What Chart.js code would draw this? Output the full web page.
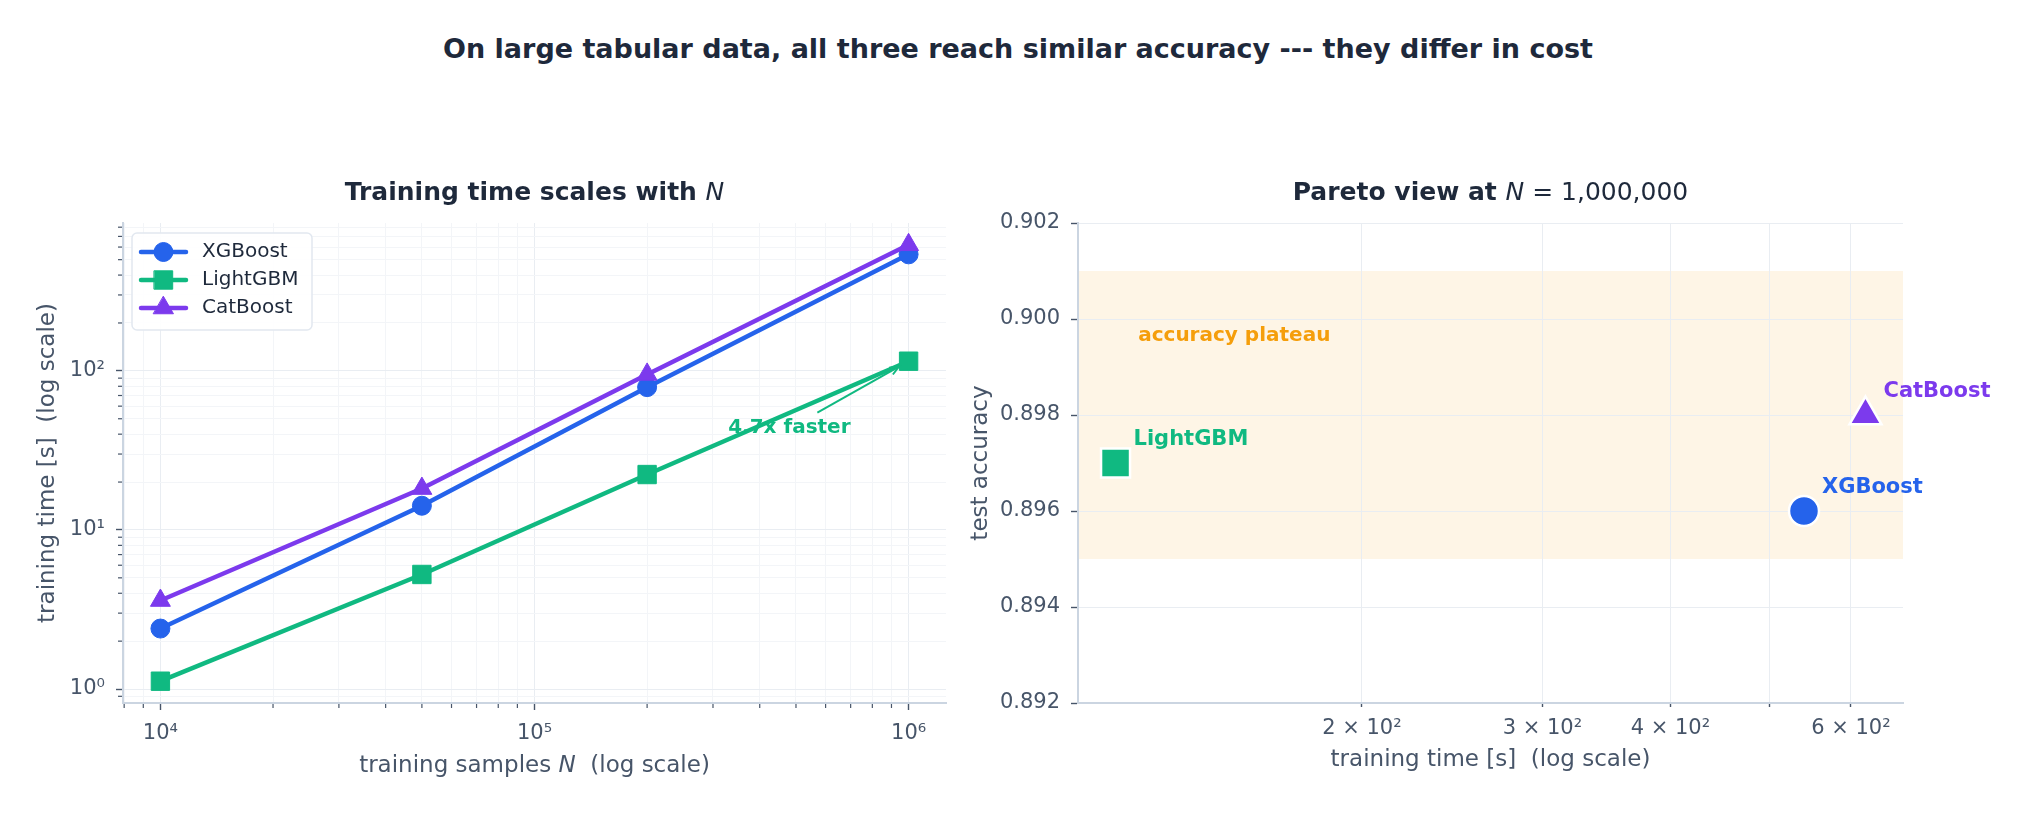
<!DOCTYPE html>
<html>
<head>
<meta charset="utf-8">
<script src="https://cdn.jsdelivr.net/npm/chart.js@4.4.1/dist/chart.umd.min.js"></script>
<style>
  body { margin: 0; background: #fff; width: 2031px; height: 817px; overflow: hidden; position: relative; }
  #suptitle { position: absolute; left: 0; top: 33px; width: 2036px; text-align: center;
              font: bold 27px 'DejaVu Sans', sans-serif; line-height: 32px; color: #1e293b; }
  #leftWrap { position: absolute; left: 0; top: 0; width: 960px; height: 817px; }
  #rightWrap { position: absolute; left: 960px; top: 0; width: 1071px; height: 817px; }
</style>
</head>
<body>
<div id="suptitle">On large tabular data, all three reach similar accuracy --- they differ in cost</div>
<div id="leftWrap"><canvas id="timeChart" width="960" height="817"></canvas></div>
<div id="rightWrap"><canvas id="paretoChart" width="1071" height="817"></canvas></div>
<script>
// data
const models = ['XGBoost', 'LightGBM', 'CatBoost'];
const sampleSizes = [1e4, 5e4, 2e5, 1e6];
const xgbTime = [2.4, 14.2, 79, 540];
const lgbmTime = [1.12, 5.25, 22.3, 115];
const catTime = [3.6, 18.2, 95, 620];

// pareto panel at N = 1,000,000
const paretoTime = [540, 115, 620];
const paretoAcc = [0.896, 0.897, 0.898];
const plateauLow = 0.895;
const plateauHigh = 0.901;

// ticks
const sampleMajorTicks = [1e4, 1e5, 1e6];
const sampleTickLabels = ['10⁴', '10⁵', '10⁶'];
const sampleMinorTicks = [8e3, 9e3, 2e4, 3e4, 4e4, 5e4, 6e4, 7e4, 8e4, 9e4,
                          2e5, 3e5, 4e5, 5e5, 6e5, 7e5, 8e5, 9e5];
const timeMajorTicks = [1, 10, 100];
const timeTickLabels = ['10⁰', '10¹', '10²'];
const timeMinorTicks = [0.9, 2, 3, 4, 5, 6, 7, 8, 9, 20, 30, 40, 50, 60, 70, 80, 90,
                        200, 300, 400, 500, 600, 700, 800];
const paretoTimeTicks = [200, 300, 400, 500, 600];
const paretoTimeLabels = ['2 × 10²', '3 × 10²', '4 × 10²', '', '6 × 10²'];
const accTicks = [0.892, 0.894, 0.896, 0.898, 0.900, 0.902];

// styling
const FONT = "'DejaVu Sans', sans-serif";
const modelColors = ['#2563eb', '#10b981', '#7c3aed'];
const modelMarkers = ['circle', 'rect', 'triangle'];
const lineMarkerRadius = { circle: 9.5, rect: 13, triangle: 11.5 };
const paretoMarkerRadius = { circle: 15, rect: 20.5, triangle: 18.5 };
const TITLE = '#1e293b';
const LABEL = '#475569';
const SPINE = '#cbd5e1';
const GRID_MAJOR = '#e9edf2';
const GRID_MINOR = '#f3f5f8';

function labelFor(v, values, labels) {
  const i = values.indexOf(v);
  return i >= 0 ? labels[i] : '';
}

function drawRuns(ctx, runs, cx, cy, color, rotate) {
  ctx.save();
  ctx.fillStyle = color;
  ctx.textBaseline = 'middle';
  ctx.textAlign = 'left';
  let total = 0;
  runs.forEach(r => { ctx.font = r.font; r.w = ctx.measureText(r.text).width; total += r.w; });
  ctx.translate(cx, cy);
  if (rotate) ctx.rotate(rotate);
  let x = -total / 2;
  runs.forEach(r => { ctx.font = r.font; ctx.fillText(r.text, x, 0); x += r.w; });
  ctx.restore();
}

function drawArrow(ctx, x0, y0, x1, y1, color) {
  ctx.save();
  ctx.strokeStyle = color;
  ctx.lineWidth = 2;
  ctx.beginPath(); ctx.moveTo(x0, y0); ctx.lineTo(x1, y1); ctx.stroke();
  const a = Math.atan2(y1 - y0, x1 - x0), h = 10;
  ctx.beginPath();
  ctx.moveTo(x1 - h * Math.cos(a - 0.4), y1 - h * Math.sin(a - 0.4));
  ctx.lineTo(x1, y1);
  ctx.lineTo(x1 - h * Math.cos(a + 0.4), y1 - h * Math.sin(a + 0.4));
  ctx.stroke();
  ctx.restore();
}

// ---------- left panel: training time vs N ----------
const timeSeries = [xgbTime, lgbmTime, catTime];
const timeDatasets = timeSeries.map((series, i) => ({
  label: models[i],
  data: sampleSizes.map((n, j) => ({ x: n, y: series[j] })),
  borderColor: modelColors[i],
  backgroundColor: modelColors[i],
  borderWidth: 4.5,
  pointStyle: modelMarkers[i],
  pointRadius: lineMarkerRadius[modelMarkers[i]],
  pointBorderWidth: 1,
  pointBackgroundColor: modelColors[i],
  pointBorderColor: modelColors[i],
  order: 2 - i,
  clip: false
}));

const timePanelPlugin = {
  id: 'timePanel',
  afterDraw(chart) {
    const { ctx, chartArea, scales: { x, y } } = chart;
    // minor tick marks
    ctx.save();
    ctx.strokeStyle = LABEL;
    ctx.lineWidth = 1.2;
    sampleMinorTicks.forEach(v => {
      const px = x.getPixelForValue(v);
      ctx.beginPath(); ctx.moveTo(px, x.top + 1); ctx.lineTo(px, x.top + 5); ctx.stroke();
    });
    timeMinorTicks.forEach(v => {
      const py = y.getPixelForValue(v);
      ctx.beginPath(); ctx.moveTo(y.right - 1, py); ctx.lineTo(y.right - 5, py); ctx.stroke();
    });
    ctx.restore();

    // subplot title and x label
    const cx = (chartArea.left + chartArea.right) / 2;
    drawRuns(ctx, [
      { text: 'Training time scales with ', font: `bold 25px ${FONT}` },
      { text: 'N', font: `italic 25px ${FONT}` }
    ], cx, 193, TITLE);
    drawRuns(ctx, [
      { text: 'training samples ', font: `23px ${FONT}` },
      { text: 'N', font: `italic 23px ${FONT}` },
      { text: '  (log scale)', font: `23px ${FONT}` }
    ], cx, 766, LABEL);
  },
  afterDatasetsDraw(chart) {
    const { ctx, scales: { x, y } } = chart;
    // speed-up annotation
    const last = sampleSizes.length - 1;
    const ratio = (xgbTime[last] / lgbmTime[last]).toFixed(1);
    const tx = x.getPixelForValue(4.8e5), ty = y.getPixelForValue(44);
    ctx.save();
    ctx.font = `bold 20px ${FONT}`;
    ctx.fillStyle = modelColors[1];
    ctx.textAlign = 'center';
    ctx.textBaseline = 'middle';
    ctx.fillText(ratio + 'x faster', tx, ty);
    ctx.restore();
    const px = x.getPixelForValue(sampleSizes[last]), py = y.getPixelForValue(lgbmTime[last]);
    const sx = tx + 28, sy = ty - 15;
    const len = Math.hypot(px - sx, py - sy);
    drawArrow(ctx, sx, sy, px - 11 * (px - sx) / len, py - 11 * (py - sy) / len, modelColors[1]);

    // legend box, top-left inside the axes
    ctx.save();
    ctx.beginPath();
    ctx.roundRect(132, 233, 180, 97, 5);
    ctx.fillStyle = 'rgba(255,255,255,0.9)';
    ctx.fill();
    ctx.strokeStyle = '#e2e8f0';
    ctx.lineWidth = 1.5;
    ctx.stroke();
    chart.data.datasets.forEach((ds, i) => {
      const ry = 252 + i * 28;
      ctx.strokeStyle = ds.borderColor;
      ctx.lineWidth = 4.5;
      ctx.lineCap = 'round';
      ctx.beginPath(); ctx.moveTo(141, ry); ctx.lineTo(186, ry); ctx.stroke();
      ctx.fillStyle = ds.borderColor;
      ctx.lineWidth = 1;
      Chart.helpers.drawPoint(ctx, { pointStyle: ds.pointStyle, radius: ds.pointRadius, rotation: 0, borderWidth: 1 }, 163.5, ry);
      ctx.fillStyle = TITLE;
      ctx.font = `20px ${FONT}`;
      ctx.textAlign = 'left';
      ctx.textBaseline = 'middle';
      ctx.fillText(ds.label, 202, ry);
    });
    ctx.restore();
  }
};

new Chart(document.getElementById('timeChart'), {
  type: 'line',
  data: { datasets: timeDatasets },
  plugins: [timePanelPlugin],
  options: {
    responsive: false,
    animation: false,
    layout: { padding: { left: 0, top: 223, right: 13, bottom: 0 } },
    plugins: { legend: { display: false }, tooltip: { enabled: false } },
    scales: {
      x: {
        type: 'logarithmic',
        min: 7943, max: 1258925,
        afterBuildTicks: s => {
          s.ticks = sampleMinorTicks.concat(sampleMajorTicks).sort((a, b) => a - b).map(v => ({ value: v }));
        },
        afterFit: s => { s.height = 114; },
        ticks: {
          autoSkip: false, maxRotation: 0, minRotation: 0, padding: 11, color: LABEL,
          font: { family: FONT, size: 21 },
          callback: v => labelFor(v, sampleMajorTicks, sampleTickLabels)
        },
        grid: {
          color: c => sampleMajorTicks.includes(c.tick && c.tick.value) ? GRID_MAJOR : GRID_MINOR,
          tickColor: c => sampleMajorTicks.includes(c.tick && c.tick.value) ? LABEL : 'rgba(0,0,0,0)',
          tickLength: 7, tickWidth: 1.4
        },
        border: { color: SPINE, width: 2 }
      },
      y: {
        type: 'logarithmic',
        min: 0.817, max: 850,
        afterBuildTicks: s => {
          s.ticks = timeMinorTicks.concat(timeMajorTicks).sort((a, b) => a - b).map(v => ({ value: v }));
        },
        afterFit: s => { s.width = 123; },
        ticks: {
          autoSkip: false, padding: 11, color: LABEL,
          font: { family: FONT, size: 21 },
          callback: v => labelFor(v, timeMajorTicks, timeTickLabels)
        },
        grid: {
          color: c => timeMajorTicks.includes(c.tick && c.tick.value) ? GRID_MAJOR : GRID_MINOR,
          tickColor: c => timeMajorTicks.includes(c.tick && c.tick.value) ? LABEL : 'rgba(0,0,0,0)',
          tickLength: 7, tickWidth: 1.4
        },
        border: { color: SPINE, width: 2 },
        title: {
          display: true, text: 'training time [s]  (log scale)', color: LABEL,
          font: { family: FONT, size: 23 }, padding: { top: 34 }
        }
      }
    }
  }
});

// ---------- right panel: pareto view ----------
const paretoDatasets = models.map((m, i) => ({
  label: m,
  data: [{ x: paretoTime[i], y: paretoAcc[i] }],
  pointStyle: modelMarkers[i],
  pointRadius: paretoMarkerRadius[modelMarkers[i]],
  backgroundColor: modelColors[i],
  borderColor: '#ffffff',
  borderWidth: 2.5,
  clip: false
}));

const paretoPanelPlugin = {
  id: 'paretoPanel',
  beforeDraw(chart) {
    const { ctx, chartArea, scales: { x, y } } = chart;
    const top = y.getPixelForValue(plateauHigh), bottom = y.getPixelForValue(plateauLow);
    ctx.save();
    ctx.fillStyle = 'rgba(245,158,11,0.1)';
    ctx.fillRect(chartArea.left, top, chartArea.right - chartArea.left, bottom - top);
    ctx.restore();
  },
  afterDatasetsDraw(chart) {
    const { ctx, chartArea, scales: { x, y } } = chart;
    ctx.save();
    ctx.textAlign = 'left';
    ctx.textBaseline = 'middle';
    ctx.font = `bold 20px ${FONT}`;
    ctx.fillStyle = '#f59e0b';
    ctx.fillText('accuracy plateau', x.getPixelForValue(121), y.getPixelForValue(0.89965));
    ctx.font = `bold 21px ${FONT}`;
    chart.data.datasets.forEach((ds, i) => {
      const pt = chart.getDatasetMeta(i).data[0];
      ctx.fillStyle = modelColors[i];
      ctx.fillText(ds.label, pt.x + 18, pt.y - 23);
    });
    ctx.restore();
    drawRuns(ctx, [
      { text: 'Pareto view at ', font: `bold 25px ${FONT}` },
      { text: 'N', font: `italic 25px ${FONT}` },
      { text: ' = 1,000,000', font: `25px ${FONT}` }
    ], (chartArea.left + chartArea.right) / 2, 193, TITLE);
  }
};

new Chart(document.getElementById('paretoChart'), {
  type: 'scatter',
  data: { datasets: paretoDatasets },
  plugins: [paretoPanelPlugin],
  options: {
    responsive: false,
    animation: false,
    layout: { padding: { left: 0, top: 223, right: 128, bottom: 0 } },
    plugins: { legend: { display: false }, tooltip: { enabled: false } },
    scales: {
      x: {
        type: 'logarithmic',
        min: 105.7, max: 674.5,
        afterBuildTicks: s => { s.ticks = paretoTimeTicks.map(v => ({ value: v })); },
        afterFit: s => { s.height = 114; },
        ticks: {
          autoSkip: false, maxRotation: 0, minRotation: 0, padding: 9, color: LABEL,
          font: { family: FONT, size: 21 },
          callback: v => labelFor(v, paretoTimeTicks, paretoTimeLabels)
        },
        grid: { color: GRID_MAJOR, tickColor: LABEL, tickLength: 4, tickWidth: 1.4 },
        border: { color: SPINE, width: 2 },
        title: {
          display: true, text: 'training time [s]  (log scale)', color: LABEL,
          font: { family: FONT, size: 23 }, padding: { bottom: 43 }
        }
      },
      y: {
        type: 'linear',
        min: 0.892, max: 0.902,
        afterBuildTicks: s => { s.ticks = accTicks.map(v => ({ value: v })); },
        afterFit: s => { s.width = 118; },
        ticks: {
          autoSkip: false, padding: 11, color: LABEL,
          font: { family: FONT, size: 21 },
          callback: v => v.toFixed(3)
        },
        grid: { color: GRID_MAJOR, tickColor: LABEL, tickLength: 7, tickWidth: 1.4 },
        border: { color: SPINE, width: 2 },
        title: {
          display: true, text: 'test accuracy', color: LABEL,
          font: { family: FONT, size: 23 }, padding: { top: 7 }
        }
      }
    }
  }
});
</script>
</body>
</html>
